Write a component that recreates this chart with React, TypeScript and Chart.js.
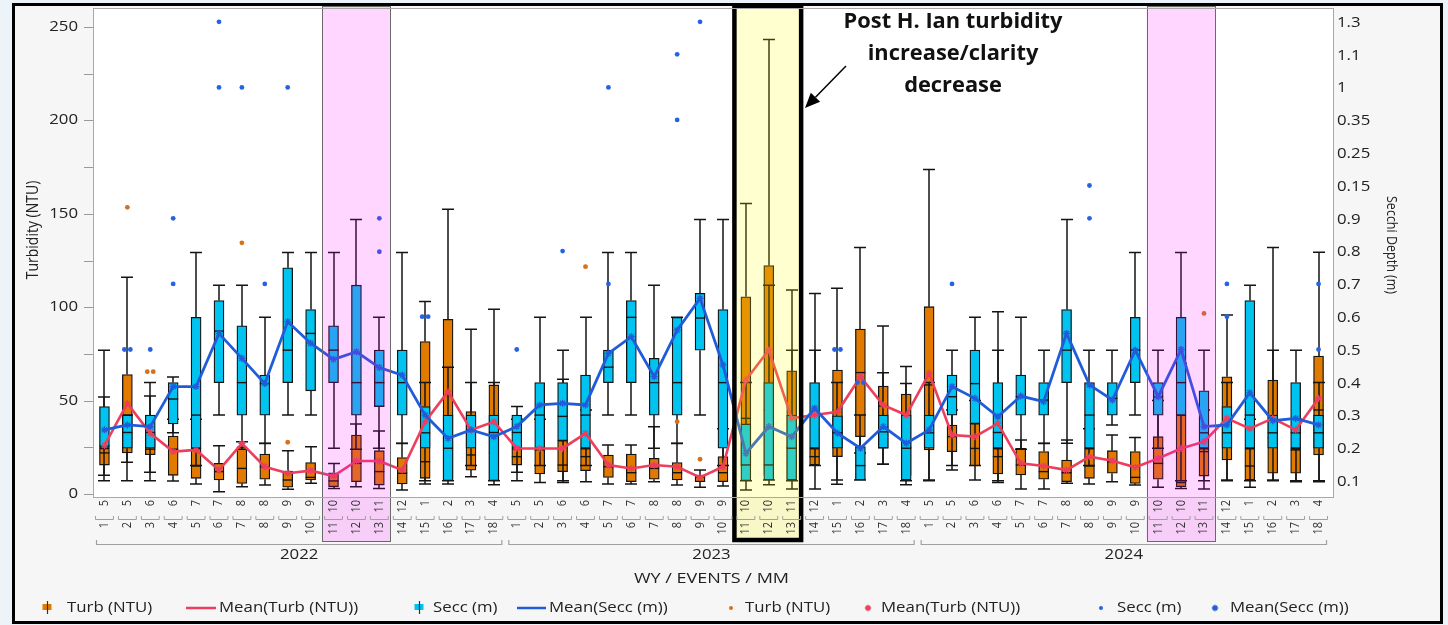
import React, { useEffect, useRef } from 'react';
import { Chart, registerables } from 'chart.js';

Chart.register(...registerables);

// Category structure: water year -> sampling event -> month sampled
const years = ['2022', '2023', '2024'];
const events = ['1', '2', '3', '4', '5', '6', '7', '8', '9', '10', '11', '12', '13', '14', '15', '16', '17', '18'];
const eventMonths = ['5', '5', '6', '6', '7', '7', '8', '8', '9', '9', '10', '10', '11', '12', '1', '2', '3', '4'];

// Turbidity (NTU) box statistics per event, WY2022 | WY2023 | WY2024
const turbLow = [
  10, 17, 11.6, 7, 5.4, 1.2, 3.9, 4.8, 2.5, 5.7, 3, 3.9, 3, 2.1, 5.4, 5.4, 9.3, 5,
  11.6, 6.1, 6.1, 6.6, 5.4, 5.4, 6.5, 4.8, 3.6, 4.3, 2.1, 5, 2.7, 2.7, 5.2, 22, 15.9, 5,
  7.5, 12.8, 7.5, 6.1, 2.7, 2.7, 5.7, 5.4, 6.6, 4.8, 3.6, 3, 2.7, 7.5, 3.6, 7.5, 6.6, 6.6,
];
const turbQ1 = [
  15.5, 22, 21, 10, 8.4, 7.5, 5.7, 7.9, 3.6, 7.5, 3.9, 6.6, 4.8, 5.4, 8.4, 8.4, 12.8, 7.1,
  15.5, 10.7, 12, 12.5, 8.9, 6.6, 7.9, 7.5, 6.6, 6.6, 15, 10, 8, 15.5, 20, 30.7, 24.4, 10,
  23.6, 22.7, 15, 10.7, 10.2, 7.9, 6.6, 8.4, 11.1, 5.7, 7.9, 3.9, 9.6, 18.2, 7.5, 11.1, 11.1, 20.9,
];
const turbMedian = [
  22, 30, 24, 24, 15, 12, 13.7, 14.6, 7.5, 8.9, 7, 16.4, 12, 11.1, 17.3, 25, 20.9, 22,
  20, 23.6, 15.5, 20, 14.6, 11.4, 13.7, 11.4, 8.9, 11.4, 40.5, 45, 25, 20, 30, 65, 47.1, 25,
  58.4, 30.7, 24.4, 20, 15.5, 12, 11.4, 15, 17.3, 8.9, 16.4, 6.1, 22.7, 45, 15, 30, 23.6, 45,
];
const turbQ3 = [
  24.5, 64, 32, 31, 24.4, 16.4, 25.3, 21.4, 12.3, 16.8, 11.4, 31.6, 23.2, 19.5, 81.6, 93.5, 44.1, 58.4,
  24.4, 24.4, 28.6, 24.4, 20.9, 21.4, 19.1, 16.8, 10.2, 20, 105.6, 122.3, 66, 24.4, 66.4, 88.3, 57.8, 53.5,
  100.3, 36.9, 37.8, 24.4, 24.4, 22.7, 18.2, 24.4, 23.2, 22.7, 30.7, 42.3, 24.4, 62.8, 24.4, 61, 24.4, 73.9,
];
const turbHigh = [
  52, 116, 52.5, 40, 40, 25.9, 28, 27, 23.2, 25.3, 16.4, 37.5, 33.7, 27, 103, 152.4, 88.2, 98.9,
  40, 40, 61.4, 45, 26.2, 26.2, 36, 27.1, 12.8, 35, 155.6, 243.4, 109.2, 77, 110.1, 132, 90, 68.2,
  173.8, 45, 50, 77, 28.9, 27, 28.9, 35, 31.6, 30.3, 50, 70, 45, 95.8, 40, 132, 40, 129.4,
];
const turbMean = [
  26, 48.5, 32.5, 22.7, 23.6, 12.8, 27.1, 14.6, 11.1, 12.5, 9.6, 17.7, 17.7, 12.8, 38.7, 54.8, 34.3, 38.7,
  24.4, 24.4, 24.4, 32.5, 15.5, 13.7, 15.5, 14.6, 8.9, 14.6, 61, 77.1, 40.5, 42.3, 44, 62.8, 47.6, 42.3,
  64.6, 31.6, 30.7, 37.8, 16.4, 15, 12.8, 20, 17.8, 14.3, 19.1, 24.4, 28, 40.5, 35, 40.5, 34.3, 51.2,
];
// [category index, NTU]
const turbOutliers = [
  [1, 153.5], [2, 65.5], [2, 65.5], [6, 134.5], [8, 27.7], [21, 121.7], [25, 38.7], [26, 18.6], [48, 96.7],
];

// Secchi depth (m) box statistics per event
const secchiLow = [
  0.104, 0.104, 0.104, 0.25, 0.15, 0.304, 0.2, 0.218, 0.304, 0.304, 0.203, 0.2, 0.203, 0.218, 0.104, 0.104, 0.15, 0.104,
  0.104, 0.15, 0.104, 0.15, 0.304, 0.304, 0.203, 0.218, 0.304, 0.15, 0.104, 0.106, 0.104, 0.15, 0.106, 0.106, 0.154, 0.104,
  0.104, 0.15, 0.15, 0.104, 0.2, 0.218, 0.218, 0.15, 0.274, 0.304, 0.203, 0.104, 0.104, 0.104, 0.104, 0.104, 0.104, 0.104,
];
const secchiQ1 = [
  0.203, 0.203, 0.203, 0.277, 0.203, 0.403, 0.304, 0.304, 0.403, 0.378, 0.403, 0.304, 0.33, 0.304, 0.203, 0.104, 0.203, 0.104,
  0.203, 0.203, 0.226, 0.203, 0.403, 0.403, 0.304, 0.304, 0.502, 0.203, 0.104, 0.106, 0.106, 0.203, 0.203, 0.106, 0.204, 0.106,
  0.203, 0.304, 0.278, 0.203, 0.304, 0.304, 0.403, 0.203, 0.304, 0.403, 0.304, 0.304, 0.203, 0.203, 0.203, 0.203, 0.203, 0.203,
];
const secchiMedian = [
  0.21, 0.251, 0.251, 0.353, 0.304, 0.56, 0.403, 0.4, 0.502, 0.553, 0.502, 0.403, 0.403, 0.403, 0.25, 0.203, 0.259, 0.251,
  0.251, 0.304, 0.3, 0.304, 0.45, 0.602, 0.403, 0.403, 0.6, 0.403, 0.152, 0.152, 0.203, 0.304, 0.25, 0.15, 0.253, 0.203,
  0.25, 0.36, 0.4, 0.251, 0.36, 0.35, 0.502, 0.304, 0.355, 0.502, 0.36, 0.403, 0.25, 0.25, 0.304, 0.25, 0.25, 0.25,
];
const secchiQ3 = [
  0.33, 0.304, 0.304, 0.403, 0.602, 0.653, 0.576, 0.426, 0.753, 0.626, 0.576, 0.7, 0.502, 0.502, 0.33, 0.304, 0.304, 0.304,
  0.304, 0.403, 0.403, 0.426, 0.502, 0.653, 0.477, 0.602, 0.675, 0.626, 0.277, 0.403, 0.304, 0.403, 0.302, 0.208, 0.304, 0.304,
  0.304, 0.426, 0.502, 0.403, 0.426, 0.403, 0.626, 0.403, 0.403, 0.602, 0.403, 0.602, 0.378, 0.33, 0.653, 0.304, 0.403, 0.304,
];
const secchiHigh = [
  0.502, 0.304, 0.403, 0.42, 0.8, 0.7, 0.7, 0.602, 0.8, 0.8, 0.8, 0.9, 0.602, 0.8, 0.403, 0.45, 0.403, 0.403,
  0.33, 0.602, 0.502, 0.602, 0.8, 0.8, 0.7, 0.602, 0.9, 0.9, 0.403, 0.7, 0.502, 0.675, 0.403, 0.304, 0.433, 0.4,
  0.403, 0.502, 0.602, 0.619, 0.602, 0.502, 0.9, 0.502, 0.502, 0.8, 0.502, 0.8, 0.502, 0.403, 0.7, 0.502, 0.502, 0.403,
];
const secchiMean = [
  0.259, 0.274, 0.269, 0.391, 0.391, 0.553, 0.477, 0.4, 0.589, 0.523, 0.474, 0.497, 0.449, 0.426, 0.304, 0.233, 0.259, 0.238,
  0.269, 0.335, 0.34, 0.335, 0.492, 0.543, 0.421, 0.563, 0.66, 0.457, 0.187, 0.269, 0.238, 0.325, 0.249, 0.203, 0.269, 0.218,
  0.259, 0.391, 0.355, 0.299, 0.362, 0.345, 0.553, 0.396, 0.35, 0.502, 0.36, 0.504, 0.269, 0.274, 0.372, 0.287, 0.294, 0.274,
];
// [category index, m]
const secchiOutliers = [
  [1, 0.504], [1, 0.504], [2, 0.504], [3, 0.904], [3, 0.704], [5, 1.503], [5, 1.303], [6, 1.303], [7, 0.704],
  [8, 1.303], [12, 0.904], [12, 0.802], [14, 0.604], [14, 0.604], [18, 0.504], [20, 0.804], [22, 0.704], [22, 1.303],
  [25, 1.404], [25, 1.204], [26, 1.503], [32, 0.504], [32, 0.504], [33, 0.403], [33, 0.403], [37, 0.704],
  [43, 1.004], [43, 0.904], [49, 0.704], [49, 0.604], [53, 0.704], [53, 0.504],
];

// Axis ticks
const turbTicks = [0, 25, 50, 75, 100, 125, 150, 175, 200, 225, 250];
const turbTickLabels = ['0', '', '50', '', '100', '', '150', '', '200', '', '250'];
const secchiTickValues = [0.1, 0.2, 0.3, 0.4, 0.5, 0.6, 0.7, 0.8, 0.9, 1.0, 1.1, 1.2, 1.3, 1.4, 1.5];
const secchiTickLabels = ['0.1', '0.2', '0.3', '0.4', '0.5', '0.6', '0.7', '0.8', '0.9', '0.15', '0.25', '0.35', '1', '1.1', '1.3'];

// Highlighted event groups
const shadedEvents = [
  { year: '2022', first: 11, last: 13 },
  { year: '2024', first: 11, last: 13 },
];
const stormEvents = { year: '2023', first: 11, last: 13 };
const stormNote = ['Post H. Ian turbidity', 'increase/clarity', 'decrease'];

const categories = years.flatMap((y) => events.map((e, k) => `${y} / ${e} / ${eventMonths[k]}`));
const catIndex = (year: string, ev: number) => years.indexOf(year) * events.length + ev - 1;

const FAMILY = '"Open Sans", "Noto Sans", "DejaVu Sans", sans-serif';
const ORANGE = 'rgb(226,122,0)';
const CYAN = 'rgb(0,195,240)';
const RED = 'rgb(238,62,92)';
const BLUE = 'rgb(32,92,218)';
const DOT_ORANGE = 'rgb(214,112,28)';
const DOT_BLUE = 'rgb(36,100,228)';
const INK = '#222222';
const STROKE = '#141414';

type Series = { axis: string; low: number[]; q1: number[]; median: number[]; q3: number[]; high: number[] };
const turbSeries: Series = { axis: 'y', low: turbLow, q1: turbQ1, median: turbMedian, q3: turbQ3, high: turbHigh };
const secchiSeries: Series = { axis: 'y2', low: secchiLow, q1: secchiQ1, median: secchiMedian, q3: secchiQ3, high: secchiHigh };

// spread coincident outliers sideways so both dots stay visible
function outlierPoints(list: number[][]) {
  const seen: Record<string, number> = {};
  const total: Record<string, number> = {};
  list.forEach(([i, v]) => { const k = `${i}:${v}`; total[k] = (total[k] || 0) + 1; });
  return list.map(([i, v]) => {
    const k = `${i}:${v}`;
    const n = total[k];
    const j = seen[k] || 0;
    seen[k] = j + 1;
    return { x: i + (j - (n - 1) / 2) * 0.26, y: v };
  });
}

type TextOpts = { align?: CanvasTextAlign; baseline?: CanvasTextBaseline; rot?: number; sx?: number; color?: string; weight?: string };
function text(ctx: CanvasRenderingContext2D, s: string, x: number, y: number, size: number, o: TextOpts = {}) {
  ctx.save();
  ctx.translate(x, y);
  ctx.scale(o.sx ?? 1.2, 1);
  if (o.rot) ctx.rotate(o.rot);
  ctx.font = `${o.weight ?? 'normal'} ${size}px ${FAMILY}`;
  ctx.fillStyle = o.color ?? INK;
  ctx.textAlign = o.align ?? 'left';
  ctx.textBaseline = o.baseline ?? 'middle';
  ctx.fillText(s, 0, 0);
  ctx.restore();
}

function clipToArea(chart: any) {
  const a = chart.chartArea;
  chart.ctx.beginPath();
  chart.ctx.rect(a.left, a.top, a.right - a.left + 4, a.bottom - a.top);
  chart.ctx.clip();
}

function drawWhiskers(chart: any, s: Series) {
  const ctx: CanvasRenderingContext2D = chart.ctx;
  const xs = chart.scales.x;
  const ys = chart.scales[s.axis];
  ctx.save();
  clipToArea(chart);
  ctx.strokeStyle = STROKE;
  ctx.lineWidth = 1.5;
  for (let i = 0; i < s.low.length; i++) {
    const x = Math.round(xs.getPixelForValue(i));
    const yHi = ys.getPixelForValue(s.high[i]);
    const yLo = ys.getPixelForValue(s.low[i]);
    ctx.beginPath();
    ctx.moveTo(x, ys.getPixelForValue(s.q3[i]));
    ctx.lineTo(x, yHi);
    ctx.moveTo(x - 6, yHi);
    ctx.lineTo(x + 6, yHi);
    ctx.moveTo(x, ys.getPixelForValue(s.q1[i]));
    ctx.lineTo(x, yLo);
    ctx.moveTo(x - 6, yLo);
    ctx.lineTo(x + 6, yLo);
    ctx.stroke();
  }
  ctx.restore();
}

function drawMedians(chart: any, s: Series) {
  const ctx: CanvasRenderingContext2D = chart.ctx;
  const xs = chart.scales.x;
  const ys = chart.scales[s.axis];
  ctx.save();
  clipToArea(chart);
  ctx.strokeStyle = STROKE;
  ctx.lineWidth = 1.4;
  for (let i = 0; i < s.median.length; i++) {
    const x = xs.getPixelForValue(i);
    const y = ys.getPixelForValue(s.median[i]);
    ctx.beginPath();
    ctx.moveTo(x - 5, y);
    ctx.lineTo(x + 5, y);
    ctx.stroke();
  }
  ctx.restore();
}

function span(chart: any, first: number, last: number) {
  const xs = chart.scales.x;
  const w = (xs.right - xs.left) / categories.length;
  return [xs.getPixelForValue(first) - w / 2, xs.getPixelForValue(last) + w / 2];
}

function star(ctx: CanvasRenderingContext2D, x: number, y: number, r: number, color: string) {
  ctx.save();
  ctx.strokeStyle = color;
  ctx.lineWidth = 1.4;
  ctx.beginPath();
  ctx.moveTo(x - r, y); ctx.lineTo(x + r, y);
  ctx.moveTo(x, y - r); ctx.lineTo(x, y + r);
  const d = r * 0.7;
  ctx.moveTo(x - d, y - d); ctx.lineTo(x + d, y + d);
  ctx.moveTo(x - d, y + d); ctx.lineTo(x + d, y - d);
  ctx.stroke();
  ctx.restore();
}

const boxParts = {
  id: 'boxParts',
  beforeDatasetDraw(chart: any, args: any) {
    const role = chart.data.datasets[args.index].boxRole;
    if (role === 'turb') drawWhiskers(chart, turbSeries);
    if (role === 'secchi') drawWhiskers(chart, secchiSeries);
  },
  afterDatasetDraw(chart: any, args: any) {
    const role = chart.data.datasets[args.index].boxRole;
    if (role === 'turb') drawMedians(chart, turbSeries);
    if (role === 'secchi') drawMedians(chart, secchiSeries);
  },
};

const decorations = {
  id: 'decorations',
  beforeDraw(chart: any) {
    const ctx: CanvasRenderingContext2D = chart.ctx;
    const a = chart.chartArea;
    ctx.save();
    ctx.fillStyle = '#edf4f9';
    ctx.fillRect(0, 0, chart.width, chart.height);
    ctx.fillStyle = '#f6f6f6';
    ctx.fillRect(13, 3, 1430, 620);
    ctx.fillStyle = '#ffffff';
    ctx.fillRect(a.left, a.top, a.right - a.left + 4, a.bottom - a.top);
    ctx.restore();
  },
  afterDatasetsDraw(chart: any) {
    const ctx: CanvasRenderingContext2D = chart.ctx;
    ctx.save();
    shadedEvents.forEach((g) => {
      const [l, r] = span(chart, catIndex(g.year, g.first), catIndex(g.year, g.last));
      ctx.fillStyle = 'rgba(255,0,255,0.16)';
      ctx.fillRect(l, 6, r - l, 536);
      ctx.strokeStyle = '#6a6a6a';
      ctx.lineWidth = 1;
      ctx.strokeRect(Math.round(l) + 0.5, 6.5, Math.round(r - l) - 1, 535);
    });
    const [l, r] = span(chart, catIndex(stormEvents.year, stormEvents.first), catIndex(stormEvents.year, stormEvents.last));
    ctx.fillStyle = 'rgba(255,255,0,0.19)';
    ctx.fillRect(l, 6, r - l, 536);
    ctx.strokeStyle = '#000000';
    ctx.lineWidth = 4.5;
    ctx.strokeRect(l, 6, r - l - 2, 534);
    ctx.restore();
  },
  afterDraw(chart: any) {
    const ctx: CanvasRenderingContext2D = chart.ctx;
    const a = chart.chartArea;
    const xs = chart.scales.x;
    const y1 = chart.scales.y;
    const y2 = chart.scales.y2;
    ctx.save();

    // plot frame
    ctx.strokeStyle = '#a8a8a8';
    ctx.lineWidth = 1;
    ctx.strokeRect(a.left + 0.5, a.top + 0.5, a.right - a.left + 3, a.bottom - a.top);

    // left axis
    ctx.strokeStyle = '#9a9a9a';
    turbTicks.forEach((v, k) => {
      const y = Math.round(y1.getPixelForValue(v)) + 0.5;
      ctx.beginPath();
      ctx.moveTo(a.left - 9, y);
      ctx.lineTo(a.left, y);
      ctx.stroke();
      if (turbTickLabels[k]) text(ctx, turbTickLabels[k], a.left - 15, y, 14, { align: 'right' });
    });
    text(ctx, 'Turbidity (NTU)', 33, 230, 14, { align: 'center', rot: -Math.PI / 2, sx: 1.15 });

    // right axis
    secchiTickValues.forEach((v, k) => {
      text(ctx, secchiTickLabels[k], a.right + 7, y2.getPixelForValue(v), 14, {});
    });
    text(ctx, 'Secchi Depth (m)', 1391, 245, 12.5, { align: 'center', rot: Math.PI / 2, sx: 1.15 });

    // nested category axis: month, event, water year
    const cw = (xs.right - xs.left) / categories.length;
    categories.forEach((_, i) => {
      const cx = xs.getPixelForValue(i);
      const k = i % events.length;
      text(ctx, eventMonths[k], cx, a.bottom + 3, 11, { align: 'right', rot: -Math.PI / 2, sx: 1.1, color: '#333' });
      ctx.strokeStyle = '#a0a0a0';
      ctx.lineWidth = 1;
      ctx.beginPath();
      ctx.moveTo(cx - cw / 2 + 2.5, 516);
      ctx.lineTo(cx - cw / 2 + 2.5, 519.5);
      ctx.lineTo(cx + cw / 2 - 2.5, 519.5);
      ctx.lineTo(cx + cw / 2 - 2.5, 516);
      ctx.stroke();
      text(ctx, events[k], cx, 522, 11, { align: 'right', rot: -Math.PI / 2, sx: 1.1, color: '#333' });
    });
    years.forEach((yr, g) => {
      const l = xs.getPixelForValue(g * events.length) - cw / 2 + 3;
      const r = xs.getPixelForValue(g * events.length + events.length - 1) + cw / 2 - 3;
      ctx.strokeStyle = '#a0a0a0';
      ctx.lineWidth = 1.2;
      ctx.beginPath();
      ctx.moveTo(l + 0.5, 540);
      ctx.lineTo(l + 0.5, 544.5);
      ctx.lineTo(r - 0.5, 544.5);
      ctx.lineTo(r - 0.5, 540);
      ctx.stroke();
      text(ctx, yr, (l + r) / 2, 555, 14, { align: 'center' });
    });
    text(ctx, 'WY / EVENTS / MM', (a.left + a.right) / 2, 579, 15, { align: 'center' });

    // legend
    const ly = 608;
    const boxIcon = (x: number, color: string) => {
      ctx.fillStyle = color;
      ctx.fillRect(x - 4.5, ly - 4, 9, 6);
      ctx.strokeStyle = '#333';
      ctx.lineWidth = 1.2;
      ctx.beginPath();
      ctx.moveTo(x + 0.5, ly - 7);
      ctx.lineTo(x + 0.5, ly + 6);
      ctx.stroke();
    };
    const lineIcon = (x0: number, x1: number, color: string) => {
      ctx.strokeStyle = color;
      ctx.lineWidth = 2.5;
      ctx.beginPath();
      ctx.moveTo(x0, ly);
      ctx.lineTo(x1, ly);
      ctx.stroke();
    };
    const dotIcon = (x: number, color: string) => {
      ctx.fillStyle = color;
      ctx.beginPath();
      ctx.arc(x, ly, 2, 0, Math.PI * 2);
      ctx.fill();
    };
    boxIcon(47, ORANGE);
    text(ctx, 'Turb (NTU)', 67, ly, 14);
    lineIcon(186, 216, RED);
    text(ctx, 'Mean(Turb (NTU))', 219, ly, 14);
    boxIcon(419, CYAN);
    text(ctx, 'Secc (m)', 433, ly, 14);
    lineIcon(517, 546, BLUE);
    text(ctx, 'Mean(Secc (m))', 549, ly, 14);
    dotIcon(731, DOT_ORANGE);
    text(ctx, 'Turb (NTU)', 745, ly, 14);
    star(ctx, 868, ly, 3.2, RED);
    text(ctx, 'Mean(Turb (NTU))', 881, ly, 14);
    dotIcon(1101, DOT_BLUE);
    text(ctx, 'Secc (m)', 1117, ly, 14);
    star(ctx, 1215, ly, 3.2, BLUE);
    text(ctx, 'Mean(Secc (m))', 1230, ly, 14);

    // storm note with arrow
    stormNote.forEach((line, k) => {
      text(ctx, line, 953, 22 + k * 32, 21, { align: 'center', weight: 'bold', sx: 1.04, color: '#111' });
    });
    const [sx0, sy0, tx, ty] = [846, 66, 805, 108];
    const len = Math.hypot(tx - sx0, ty - sy0);
    const ux = (tx - sx0) / len;
    const uy = (ty - sy0) / len;
    const bx = tx - ux * 15;
    const by = ty - uy * 15;
    ctx.strokeStyle = '#000';
    ctx.lineWidth = 1.5;
    ctx.beginPath();
    ctx.moveTo(sx0, sy0);
    ctx.lineTo(bx, by);
    ctx.stroke();
    ctx.fillStyle = '#000';
    ctx.beginPath();
    ctx.moveTo(tx, ty);
    ctx.lineTo(bx - uy * 6.5, by + ux * 6.5);
    ctx.lineTo(bx + uy * 6.5, by - ux * 6.5);
    ctx.closePath();
    ctx.fill();

    // outer frame
    ctx.strokeStyle = '#000';
    ctx.lineWidth = 3;
    ctx.strokeRect(13.5, 4.5, 1428, 618);
    ctx.restore();
  },
};

export default function App() {
  const ref = useRef<HTMLCanvasElement | null>(null);

  useEffect(() => {
    if (!ref.current) return;
    const chart = new Chart(ref.current, {
      type: 'bar',
      data: {
        labels: categories,
        datasets: [
          {
            type: 'bar',
            label: 'Turb (NTU)',
            boxRole: 'turb',
            data: turbQ1.map((q, i) => [q, turbQ3[i]]),
            xAxisID: 'x',
            yAxisID: 'y',
            backgroundColor: ORANGE,
            borderColor: STROKE,
            borderWidth: 1.3,
            borderSkipped: false,
            barThickness: 10,
            grouped: false,
            order: 4,
          } as any,
          {
            type: 'bar',
            label: 'Secc (m)',
            boxRole: 'secchi',
            data: secchiQ1.map((q, i) => [q, secchiQ3[i]]),
            xAxisID: 'x',
            yAxisID: 'y2',
            backgroundColor: CYAN,
            borderColor: STROKE,
            borderWidth: 1.3,
            borderSkipped: false,
            barThickness: 10,
            grouped: false,
            order: 3,
          } as any,
          {
            type: 'line',
            label: 'Mean(Turb (NTU))',
            data: turbMean.map((v, i) => ({ x: i, y: v })),
            xAxisID: 'xo',
            yAxisID: 'y',
            borderColor: RED,
            borderWidth: 2.6,
            pointStyle: 'star',
            pointRadius: 3.5,
            pointBorderColor: RED,
            pointBorderWidth: 1.3,
            tension: 0,
            order: 2,
          } as any,
          {
            type: 'line',
            label: 'Mean(Secc (m))',
            data: secchiMean.map((v, i) => ({ x: i, y: v })),
            xAxisID: 'xo',
            yAxisID: 'y2',
            borderColor: BLUE,
            borderWidth: 2.8,
            pointStyle: 'star',
            pointRadius: 3.5,
            pointBorderColor: BLUE,
            pointBorderWidth: 1.3,
            tension: 0,
            order: 1,
          } as any,
          {
            type: 'scatter',
            label: 'Turb (NTU)',
            data: outlierPoints(turbOutliers),
            xAxisID: 'xo',
            yAxisID: 'y',
            backgroundColor: DOT_ORANGE,
            borderWidth: 0,
            pointRadius: 2.4,
            order: 0,
          } as any,
          {
            type: 'scatter',
            label: 'Secc (m)',
            data: outlierPoints(secchiOutliers),
            xAxisID: 'xo',
            yAxisID: 'y2',
            backgroundColor: DOT_BLUE,
            borderWidth: 0,
            pointRadius: 2.4,
            order: 0,
          } as any,
        ],
      },
      options: {
        responsive: false,
        animation: false,
        layout: { padding: { top: 8, left: 0, right: 0, bottom: 0 } },
        plugins: {
          legend: { display: false },
          tooltip: { enabled: false },
          title: { display: false },
        },
        scales: {
          x: {
            type: 'category',
            position: 'bottom',
            offset: true,
            ticks: { display: false },
            grid: { display: false },
            border: { display: false },
            afterFit: (s: any) => { s.height = 128; },
          },
          // numeric twin of the category axis, used for lines and outlier dots
          xo: {
            type: 'linear',
            position: 'top',
            offset: false,
            min: -0.5,
            max: 53.5,
            ticks: { display: false },
            grid: { display: false, offset: false },
            border: { display: false },
            afterFit: (s: any) => { s.height = 0; },
          },
          y: {
            type: 'linear',
            position: 'left',
            min: -1.6,
            max: 260.2,
            ticks: { display: false },
            grid: { display: false },
            border: { display: false },
            afterFit: (s: any) => { s.width = 93; },
          },
          y2: {
            type: 'linear',
            position: 'right',
            min: 0.0543,
            max: 1.5451,
            ticks: { display: false },
            grid: { display: false },
            border: { display: false },
            afterFit: (s: any) => { s.width = 118; },
          },
        },
      } as any,
      plugins: [decorations, boxParts],
    });
    return () => chart.destroy();
  }, []);

  return (
    <div style={{ position: 'fixed', left: 0, top: 0, width: 1448, height: 625 }}>
      <canvas ref={ref} width={1448} height={625} style={{ display: 'block', width: 1448, height: 625 }} />
    </div>
  );
}
